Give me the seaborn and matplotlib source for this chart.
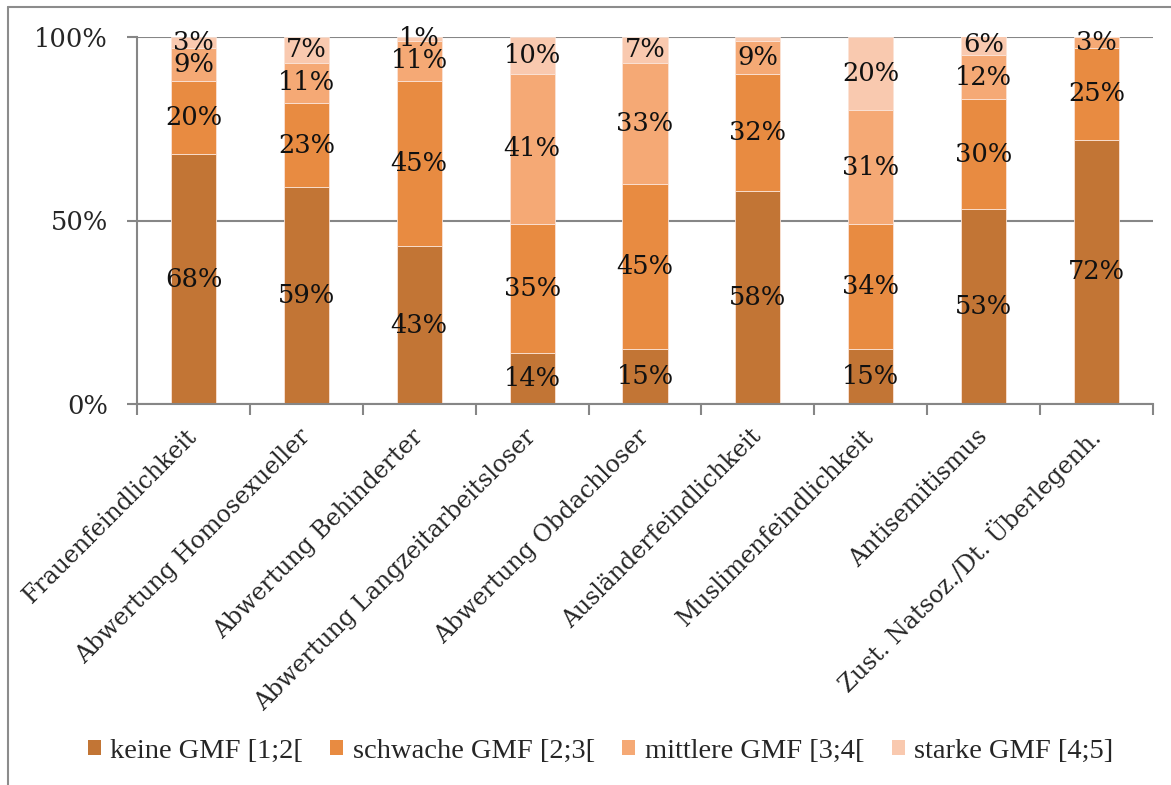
import matplotlib
matplotlib.use("Agg")
import matplotlib.pyplot as plt
import seaborn as sns
import numpy as np
from matplotlib.lines import Line2D
from matplotlib.patches import Patch

categories = ["Frauenfeindlichkeit", "Abwertung Homosexueller", "Abwertung Behinderter",
              "Abwertung Langzeitarbeitsloser", "Abwertung Obdachloser", "Ausländerfeindlichkeit",
              "Muslimenfeindlichkeit", "Antisemitismus", "Zust. Natsoz./Dt. Überlegenh."]
series_names = ["keine GMF [1;2[", "schwache GMF [2;3[", "mittlere GMF [3;4[", "starke GMF [4;5]"]
keine = [68, 59, 43, 14, 15, 58, 15, 53, 72]
schwache = [20, 23, 45, 35, 45, 32, 34, 30, 25]
mittlere = [9, 11, 11, 41, 33, 9, 31, 12, 3]
starke = [3, 7, 1, 10, 7, 1, 20, 6, 0]
# labels as shown in the reference (some small segments carry no label)
show_starke = [True, True, True, True, True, False, True, True, False]
yticks = [0, 50, 100]
ytick_labels = ["0%", "50%", "100%"]

colors = ["#C27535", "#E88B41", "#F5A975", "#F9C9AF"]

sns.set_theme(style="white")
plt.rcParams["font.family"] = ["DejaVu Serif"]

fig = plt.figure(figsize=(11.71, 7.85), dpi=100)
ax = fig.add_axes([137/1171, 1-404/785, (1153-137)/1171, (404-37)/785])

all_series = [keine, schwache, mittlere, starke]
bottom = np.zeros(len(categories))
x = np.arange(len(categories))
for i, vals in enumerate(all_series):
    vals = np.array(vals, dtype=float)
    sns.barplot(x=categories, y=vals, bottom=bottom, color=colors[i], width=0.4,
                ax=ax, edgecolor="#FBE3D6", linewidth=0.6, saturation=1)
    for j, v in enumerate(vals):
        if v <= 0:
            continue
        if i == 3 and not show_starke[j]:
            continue
        ax.text(x[j], bottom[j] + v/2, f"{int(v)}%", ha="center", va="center",
                fontsize=18.5, color="#111111")
    bottom = bottom + vals

ax.set_ylim(0, 100)
ax.set_xlim(-0.5, len(categories) - 0.5)
ax.set_yticks(yticks)
ax.set_yticklabels(ytick_labels, fontsize=18.5)
ax.yaxis.grid(True, color="#868686", linewidth=1.5)
ax.set_axisbelow(True)
for s in ["top", "right"]:
    ax.spines[s].set_visible(False)
for s in ["left", "bottom"]:
    ax.spines[s].set_color("#868686")
    ax.spines[s].set_linewidth(1.5)
ax.tick_params(axis="y", which="major", left=True, length=7, width=1.5, color="#868686", pad=14)
ax.set_xticks(x)
ax.set_xticklabels(categories, rotation=45, ha="right", va="center",
                   rotation_mode="anchor", fontsize=17)
ax.set_xticks(np.arange(-0.5, len(categories)), minor=True)
ax.tick_params(axis="x", which="major", length=0, pad=21)
ax.tick_params(axis="x", which="minor", bottom=True, length=8, width=1.5, color="#868686")
ax.set_xlabel("")
ax.set_ylabel("")

handles = [Patch(facecolor=c, edgecolor="none") for c in colors]
fig.legend(handles, series_names, loc="center", bbox_to_anchor=(0.513, 1-751/785),
           ncol=4, frameon=False, prop={"family": "Liberation Serif", "size": 20.5},
           handlelength=0.45, handleheight=0.45, handletextpad=0.35, columnspacing=0.95)

# figure frame lines (top and left)
fig.add_artist(Line2D([8/1171, 8/1171], [0, 1-7/785], transform=fig.transFigure,
                      color="#8C8C8C", linewidth=1.5))
fig.add_artist(Line2D([8/1171, 1], [1-7/785, 1-7/785], transform=fig.transFigure,
                      color="#8C8C8C", linewidth=1.5))

fig.savefig("out.png", dpi=100)
